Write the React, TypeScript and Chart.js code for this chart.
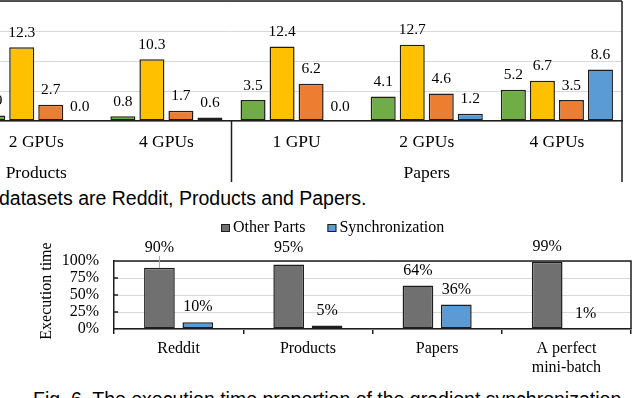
import React, { useEffect, useRef } from 'react';
import { Chart, registerables } from 'chart.js';

Chart.register(...registerables);

const SERIF = '"Liberation Serif", "Times New Roman", serif';
const SANS = '"Liberation Sans", Arial, sans-serif';

// ---- Top chart data (left part of the figure is cut off) ----
const topCategories = ['1 GPU', '2 GPUs', '4 GPUs', '1 GPU', '2 GPUs', '4 GPUs'];
const topGroups = ['Products', 'Papers'];
const topGroupSizes = [3, 3];
const topSeriesNames = ['Series 1', 'Series 2', 'Series 3', 'Synchronization'];
const topGreen = [null, 0.9, 0.8, 3.5, 4.1, 5.2];
const topYellow = [null, 12.3, 10.3, 12.4, 12.7, 6.7];
const topOrange = [null, 2.7, 1.7, 6.2, 4.6, 3.5];
const topBlue = [null, 0.0, 0.6, 0.0, 1.2, 8.6];
const topYMax = 20;
const topYStep = 5;

// ---- Bottom chart data ----
const botCategories = [['Reddit'], ['Products'], ['Papers'], ['A perfect', 'mini-batch']];
const botSeriesNames = ['Other Parts', 'Synchronization'];
const botOther = [90, 95, 64, 99];
const botSync = [10, 5, 36, 1];
const botYMax = 100;
const botYStep = 25;

const captionMiddle = 'datasets are Reddit, Products and Papers.';
const captionBottom = 'Fig. 6. The execution time proportion of the gradient synchronization';

const C_GREEN = '#70AD47';
const C_YELLOW = '#FFC000';
const C_ORANGE = '#ED7D31';
const C_BLUE = '#5B9BD5';
const C_GRAY = '#707070';
const C_LINE = '#1e1e1e';
const C_GRID = '#D9D9D9';

const topPlugin = {
  id: 'topDecor',
  afterDatasetsDraw(chart: any) {
    const { ctx, chartArea: a, scales } = chart;
    const x = scales.x;
    ctx.save();
    ctx.fillStyle = '#000';
    ctx.textAlign = 'center';
    ctx.textBaseline = 'middle';
    ctx.font = `15.5px ${SERIF}`;
    chart.data.datasets.forEach((ds: any, di: number) => {
      const meta = chart.getDatasetMeta(di);
      meta.data.forEach((bar: any, i: number) => {
        const v = ds.data[i];
        if (v == null) return;
        ctx.fillText(Number(v).toFixed(1), bar.x, bar.y - 14.5);
      });
    });
    const ext = a.bottom + 61;
    ctx.strokeStyle = C_LINE;
    ctx.lineWidth = 1.5;
    ctx.beginPath();
    ctx.moveTo(a.left, a.top);
    ctx.lineTo(a.right, a.top);
    ctx.moveTo(a.right, a.top);
    ctx.lineTo(a.right, ext);
    ctx.moveTo(a.left, a.top);
    ctx.lineTo(a.left, ext);
    ctx.font = `17.5px ${SERIF}`;
    let idx = 0;
    topGroups.forEach((g, gi) => {
      const n = topGroupSizes[gi];
      const first = x.getPixelForValue(idx);
      const last = x.getPixelForValue(idx + n - 1);
      ctx.fillText(g, (first + last) / 2, a.bottom + 52);
      if (gi < topGroups.length - 1) {
        const b = (last + x.getPixelForValue(idx + n)) / 2;
        ctx.moveTo(b, a.bottom);
        ctx.lineTo(b, ext);
      }
      idx += n;
    });
    ctx.stroke();
    ctx.restore();
  },
};

const botPlugin = {
  id: 'botDecor',
  afterDatasetsDraw(chart: any) {
    const { ctx, chartArea: a, scales } = chart;
    const y = scales.y;
    ctx.save();
    // frame top/right
    ctx.strokeStyle = C_LINE;
    ctx.lineWidth = 1.5;
    ctx.beginPath();
    ctx.moveTo(a.left, a.top);
    ctx.lineTo(a.right, a.top);
    ctx.lineTo(a.right, a.bottom);
    // inward y tick marks
    for (let v = botYStep; v < botYMax; v += botYStep) {
      const py = y.getPixelForValue(v);
      ctx.moveTo(a.left, py);
      ctx.lineTo(a.left + 4, py);
    }
    ctx.stroke();

    // data labels
    ctx.font = `16px ${SERIF}`;
    ctx.fillStyle = '#000';
    ctx.textAlign = 'center';
    ctx.textBaseline = 'middle';
    const lifted = a.top - 13;
    chart.data.datasets.forEach((ds: any, di: number) => {
      const meta = chart.getDatasetMeta(di);
      meta.data.forEach((bar: any, i: number) => {
        const v = ds.data[i];
        const natural = bar.y - 15;
        let ly = natural;
        // labels that would sit on the frame line are lifted above it
        if (natural > lifted && natural < a.top + 3) ly = lifted;
        if (natural - ly > 3) {
          ctx.strokeStyle = '#A6A6A6';
          ctx.lineWidth = 1;
          ctx.beginPath();
          ctx.moveTo(bar.x, ly + 8);
          ctx.lineTo(bar.x, bar.y);
          ctx.stroke();
        }
        ctx.fillText(`${v}%`, bar.x, ly);
      });
    });

    // y axis title
    ctx.save();
    ctx.translate(47, 79);
    ctx.rotate(-Math.PI / 2);
    ctx.fillText('Execution time', 0, 0);
    ctx.restore();

    // legend
    let lx = 221;
    const ly = 16;
    ctx.textAlign = 'left';
    chart.data.datasets.forEach((ds: any) => {
      ctx.fillStyle = ds.backgroundColor;
      ctx.fillRect(lx, ly - 4, 9, 8);
      ctx.strokeStyle = C_LINE;
      ctx.lineWidth = 1;
      ctx.strokeRect(lx + 0.5, ly - 3.5, 8, 7);
      ctx.fillStyle = '#000';
      ctx.fillText(ds.label, lx + 12, ly);
      lx += 12 + ctx.measureText(ds.label).width + 22;
    });
    ctx.restore();
  },
};

export default function App() {
  const topRef = useRef<HTMLCanvasElement>(null);
  const botRef = useRef<HTMLCanvasElement>(null);

  useEffect(() => {
    const barStyle = { borderColor: C_LINE, borderWidth: 1.5, borderSkipped: false as const };
    const topChart = new Chart(topRef.current!, {
      type: 'bar',
      data: {
        labels: topCategories,
        datasets: [
          { label: topSeriesNames[0], data: topGreen, backgroundColor: C_GREEN, ...barStyle },
          { label: topSeriesNames[1], data: topYellow, backgroundColor: C_YELLOW, ...barStyle },
          { label: topSeriesNames[2], data: topOrange, backgroundColor: C_ORANGE, ...barStyle },
          { label: topSeriesNames[3], data: topBlue, backgroundColor: C_BLUE, ...barStyle },
        ],
      },
      options: {
        responsive: false,
        animation: false,
        events: [],
        layout: { padding: { left: 11, right: 10, top: 1, bottom: 0 } },
        datasets: { bar: { categoryPercentage: 0.892, barPercentage: 0.862 } },
        plugins: { legend: { display: false }, tooltip: { enabled: false } },
        scales: {
          x: {
            grid: { display: true, drawOnChartArea: false, drawTicks: false },
            border: { display: true, color: C_LINE, width: 1.5 },
            ticks: {
              color: '#000',
              font: { family: SERIF, size: 17.5 },
              padding: 10.5,
              maxRotation: 0,
              autoSkip: false,
            },
            afterFit: (s: any) => { s.height = 64; },
          },
          y: {
            min: 0,
            max: topYMax,
            ticks: { display: false, stepSize: topYStep, autoSkip: false },
            grid: { color: C_GRID, lineWidth: 1, drawTicks: false },
            border: { display: false },
            afterFit: (s: any) => { s.width = 0; },
          },
        },
      },
      plugins: [topPlugin],
    } as any);

    const botChart = new Chart(botRef.current!, {
      type: 'bar',
      data: {
        labels: botCategories,
        datasets: [
          { label: botSeriesNames[0], data: botOther, backgroundColor: C_GRAY, ...barStyle },
          { label: botSeriesNames[1], data: botSync, backgroundColor: C_BLUE, ...barStyle },
        ],
      },
      options: {
        responsive: false,
        animation: false,
        events: [],
        layout: { padding: { left: 0, right: 9, top: 49, bottom: 0 } },
        datasets: { bar: { categoryPercentage: 0.594, barPercentage: 0.8 } },
        plugins: { legend: { display: false }, tooltip: { enabled: false } },
        scales: {
          x: {
            grid: {
              display: true,
              drawOnChartArea: false,
              drawTicks: true,
              tickLength: 5,
              color: C_LINE,
              lineWidth: 1.5,
            },
            border: { display: true, color: C_LINE, width: 1.5 },
            ticks: {
              color: '#000',
              font: { family: SERIF, size: 16 },
              padding: 5,
              maxRotation: 0,
              autoSkip: false,
            },
            afterFit: (s: any) => { s.height = 43; },
          },
          y: {
            min: 0,
            max: botYMax,
            ticks: {
              stepSize: botYStep,
              autoSkip: false,
              color: '#000',
              font: { family: SERIF, size: 16 },
              padding: 15,
              callback: (v: any) => `${v}%`,
            },
            grid: { color: C_GRID, lineWidth: 1, drawTicks: false },
            border: { display: true, color: C_LINE, width: 1.5 },
            afterFit: (s: any) => { s.width = 114; },
          },
        },
      },
      plugins: [botPlugin],
    } as any);

    return () => {
      topChart.destroy();
      botChart.destroy();
    };
  }, []);

  return (
    <div
      style={{
        position: 'fixed',
        left: 0,
        top: 0,
        width: 640,
        height: 398,
        overflow: 'hidden',
        background: '#fff',
      }}
    >
      <canvas
        ref={topRef}
        width={802}
        height={185}
        style={{ position: 'absolute', left: -170, top: 0, width: 802, height: 185, display: 'block' }}
      />
      <div
        style={{
          position: 'absolute',
          left: -1,
          top: 187.5,
          font: `19.5px ${SANS}`,
          lineHeight: '20px',
          whiteSpace: 'nowrap',
          color: '#000',
        }}
      >
        {captionMiddle}
      </div>
      <canvas
        ref={botRef}
        width={640}
        height={160}
        style={{ position: 'absolute', left: 0, top: 212, width: 640, height: 160, display: 'block' }}
      />
      <div
        style={{
          position: 'absolute',
          left: 33,
          top: 388.5,
          font: `19.5px ${SANS}`,
          lineHeight: '20px',
          whiteSpace: 'nowrap',
          color: '#000',
        }}
      >
        {captionBottom}
      </div>
    </div>
  );
}
